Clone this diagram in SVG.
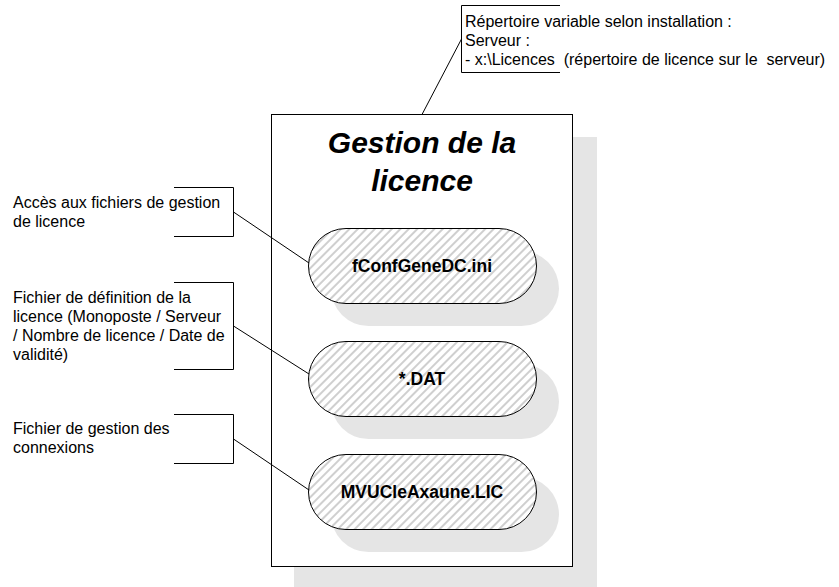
<svg xmlns="http://www.w3.org/2000/svg" width="839" height="587" viewBox="0 0 839 587">
<defs>
<pattern id="hatch" patternUnits="userSpaceOnUse" width="6" height="6" patternTransform="rotate(45)">
<rect width="6" height="6" fill="#ffffff"/>
<line x1="1" y1="0" x2="1" y2="6" stroke="#a0a0a0" stroke-width="1"/>
</pattern>
<style>
.lbl{font-family:"Liberation Sans",Arial,sans-serif;font-size:16px;fill:#000}
.br{fill:none;stroke:#000;stroke-width:1}
.conn{fill:none;stroke:#000;stroke-width:1}
.shadow{fill:#e5e5e5}
.pill{fill:url(#hatch);stroke:#000;stroke-width:1}
.ptxt{font-family:"Liberation Sans",Arial,sans-serif;font-size:17.5px;font-weight:bold;text-anchor:middle;fill:#000}
.title{font-family:"Liberation Sans",Arial,sans-serif;font-size:30px;font-weight:bold;font-style:italic;text-anchor:middle;fill:#000}
</style>
</defs>
<rect width="839" height="587" fill="#ffffff"/>

<g id="gestion">
<rect class="shadow" x="294" y="137" width="303" height="453"/>
<rect x="271.5" y="114.5" width="301" height="452" fill="#ffffff" stroke="#000" stroke-width="1"/>
<text class="title" x="422" y="153">Gestion de la</text>
<text class="title" x="422" y="191">licence</text>
</g>

<g id="pill1">
<rect class="shadow" x="331" y="251" width="228" height="75" rx="37.5"/>
<rect class="pill" x="308.5" y="228.5" width="228" height="75" rx="37.5"/>
<text class="ptxt" x="422" y="272">fConfGeneDC.ini</text>
</g>
<g id="pill2">
<rect class="shadow" x="331" y="364" width="228" height="75" rx="37.5"/>
<rect class="pill" x="308.5" y="341.5" width="228" height="75" rx="37.5"/>
<text class="ptxt" x="422" y="385">*.DAT</text>
</g>
<g id="pill3">
<rect class="shadow" x="331" y="477" width="228" height="75" rx="37.5"/>
<rect class="pill" x="308.5" y="454.5" width="228" height="75" rx="37.5"/>
<text class="ptxt" x="422" y="498">MVUCleAxaune.LIC</text>
</g>

<g id="note-top">
<path class="br" d="M560,5.5 H461.5 V72.5 H560"/>
<text class="lbl" x="465" y="27">Répertoire variable selon installation :</text>
<text class="lbl" x="465" y="46">Serveur :</text>
<text class="lbl" x="465" y="65" xml:space="preserve">- x:\Licences  (répertoire de licence sur le  serveur)</text>
</g>

<g id="note1">
<path class="br" d="M174,187.5 H233.5 V236.5 H174"/>
<text class="lbl" x="13" y="208">Accès aux fichiers de gestion</text>
<text class="lbl" x="13" y="227">de licence</text>
</g>

<g id="note2">
<path class="br" d="M174,282.5 H233.5 V369.5 H174"/>
<text class="lbl" x="13" y="303">Fichier de définition de la</text>
<text class="lbl" x="13" y="322">licence (Monoposte / Serveur</text>
<text class="lbl" x="13" y="341">/ Nombre de licence / Date de</text>
<text class="lbl" x="13" y="360">validité)</text>
</g>

<g id="note3">
<path class="br" d="M174,414.5 H233.5 V463.5 H174"/>
<text class="lbl" x="13" y="434">Fichier de gestion des</text>
<text class="lbl" x="13" y="453">connexions</text>
</g>

<g id="connectors">
<line class="conn" x1="461.5" y1="39" x2="422" y2="114.5"/>
<line class="conn" x1="233.5" y1="212" x2="309" y2="263"/>
<line class="conn" x1="233.5" y1="326" x2="309" y2="374"/>
<line class="conn" x1="233.5" y1="439" x2="309" y2="490"/>
</g>
</svg>
